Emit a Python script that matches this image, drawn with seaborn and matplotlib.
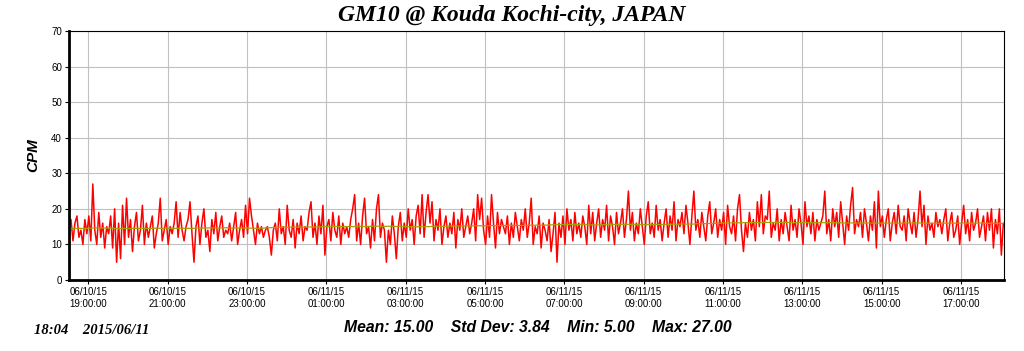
import pandas as pd
import numpy as np
import matplotlib
matplotlib.use("Agg")
import matplotlib.pyplot as plt
import matplotlib.dates as mdates
import seaborn as sns

# CPM readings, one value every 3 minutes from 06/10/15 18:31
cpm_rows = [
    [15, 17, 11, 16, 18, 12, 14, 10, 17, 13, 18, 11, 27, 14, 10, 19, 12, 16, 9, 15],
    [13, 18, 9, 20, 5, 16, 6, 21, 10, 23, 12, 17, 8, 15, 19, 11, 14, 21, 10, 16],
    [12, 15, 18, 9, 13, 16, 23, 11, 14, 17, 10, 15, 13, 16, 22, 12, 19, 14, 11, 15],
    [17, 22, 13, 5, 15, 18, 10, 16, 20, 12, 14, 8, 17, 13, 19, 11, 15, 18, 12, 14],
    [13, 16, 11, 15, 19, 10, 14, 17, 12, 21, 13, 23, 18, 14, 10, 16, 13, 15, 12, 14],
    [15, 12, 7, 14, 16, 11, 20, 13, 15, 10, 21, 14, 12, 17, 9, 16, 13, 18, 11, 15],
    [14, 19, 22, 12, 16, 10, 18, 13, 21, 7, 15, 17, 11, 19, 14, 12, 18, 10, 16, 13],
    [15, 12, 17, 20, 24, 11, 16, 10, 18, 23, 13, 15, 9, 17, 11, 20, 24, 12, 16, 14],
    [5, 14, 10, 18, 13, 6, 15, 19, 11, 16, 12, 20, 14, 17, 10, 18, 21, 13, 24, 12],
    [19, 24, 16, 22, 11, 17, 14, 20, 10, 15, 18, 12, 16, 13, 19, 9, 17, 14, 20, 12],
    [15, 18, 13, 16, 20, 11, 24, 17, 23, 14, 10, 18, 12, 24, 16, 9, 19, 13, 17, 15],
    [13, 18, 10, 16, 12, 19, 15, 11, 17, 14, 20, 12, 16, 23, 10, 15, 13, 18, 9, 16],
    [14, 11, 17, 8, 13, 19, 5, 16, 12, 18, 10, 20, 14, 17, 11, 19, 13, 16, 12, 18],
    [15, 10, 21, 13, 19, 11, 16, 20, 12, 17, 14, 21, 11, 18, 15, 10, 19, 13, 16, 20],
    [12, 17, 25, 14, 19, 11, 16, 13, 20, 15, 10, 18, 22, 13, 16, 12, 21, 14, 17, 11],
    [16, 20, 12, 18, 14, 22, 11, 17, 15, 19, 13, 21, 16, 10, 18, 25, 14, 17, 12, 19],
    [15, 11, 18, 22, 13, 16, 20, 12, 17, 14, 19, 10, 21, 15, 13, 18, 11, 20, 24, 14],
    [8, 16, 12, 19, 14, 17, 11, 22, 15, 24, 13, 18, 17, 25, 12, 16, 14, 20, 11, 17],
    [13, 19, 15, 11, 21, 14, 17, 12, 20, 16, 10, 22, 15, 18, 13, 19, 11, 17, 14, 16],
    [18, 25, 13, 17, 11, 20, 15, 19, 12, 22, 16, 10, 18, 14, 21, 26, 13, 17, 15, 19],
    [12, 20, 16, 11, 18, 14, 22, 9, 25, 15, 18, 12, 17, 20, 11, 16, 19, 13, 21, 15],
    [14, 18, 11, 20, 16, 13, 19, 12, 17, 25, 15, 21, 10, 18, 14, 16, 12, 19, 15, 17],
    [13, 17, 20, 11, 16, 19, 12, 14, 18, 10, 16, 21, 13, 17, 11, 19, 14, 16, 20, 12],
    [15, 18, 11, 19, 14, 20, 9, 17, 13, 20, 7, 16],
]
start_time = "2015-06-10 18:31"
end_time = "2015-06-11 18:05"
title = "GM10 @ Kouda Kochi-city, JAPAN"
stats_text = "Mean: 15.00    Std Dev: 3.84    Min: 5.00    Max: 27.00"
stamp_text = "18:04    2015/06/11"

cpm = [v for row in cpm_rows for v in row]
df = pd.DataFrame({
    "time": pd.date_range(start_time, periods=len(cpm), freq="3min"),
    "cpm": cpm,
})
df["avg"] = df["cpm"].rolling(160, center=True, min_periods=1).mean()

sns.set_style("white")
plt.rcParams.update({"text.color": "black", "axes.labelcolor": "black",
                     "xtick.color": "black", "ytick.color": "black"})
fig = plt.figure(figsize=(10.24, 3.51), dpi=100)
ax = fig.add_axes([69 / 1024, 1 - 280 / 351, 935 / 1024, 249 / 351])

sns.lineplot(data=df, x="time", y="cpm", ax=ax, color="#ff0000", linewidth=1.1)
sns.lineplot(data=df, x="time", y="avg", ax=ax, color="#a8a000", linewidth=0.9)

ax.set_ylim(0, 70)
ax.set_yticks(range(0, 71, 10))
ax.set_xlim(pd.Timestamp(start_time), pd.Timestamp(end_time))
ax.xaxis.set_major_locator(mdates.HourLocator(byhour=range(1, 24, 2)))
ax.xaxis.set_major_formatter(mdates.DateFormatter("%m/%d/%y\n%H:%M:%S"))
ax.grid(True, color="#c0c0c0", linewidth=0.8)
ax.set_axisbelow(True)

for side in ["top", "right"]:
    ax.spines[side].set_linewidth(0.8)
for side in ["left", "bottom"]:
    ax.spines[side].set_linewidth(2.0)
for sp in ax.spines.values():
    sp.set_color("black")

ax.tick_params(axis="both", which="major", length=3, width=0.8, direction="out",
               labelsize=7, colors="black", pad=2)
ax.tick_params(axis="both", left=True, bottom=True)
for lbl in ax.get_xticklabels() + ax.get_yticklabels():
    lbl.set_family("Liberation Sans")

ax.set_xlabel("")
ax.set_ylabel("CPM", fontsize=11, fontweight="bold", fontstyle="italic",
              family="Liberation Sans", labelpad=8, color="black")

fig.text(512 / 1024, 1 - 16 / 351, title, ha="center", va="center", color="black",
         fontsize=17, fontweight="bold", fontstyle="italic", family="Liberation Serif")
fig.text(538 / 1024, 1 - 327 / 351, stats_text, ha="center", va="center", color="black",
         fontsize=11.3, fontweight="bold", fontstyle="italic", family="Liberation Sans")
fig.text(34 / 1024, 1 - 331 / 351, stamp_text, ha="left", va="center", color="black",
         fontsize=10.5, fontweight="bold", fontstyle="italic", family="Liberation Serif")

fig.savefig("out.png", dpi=100)
